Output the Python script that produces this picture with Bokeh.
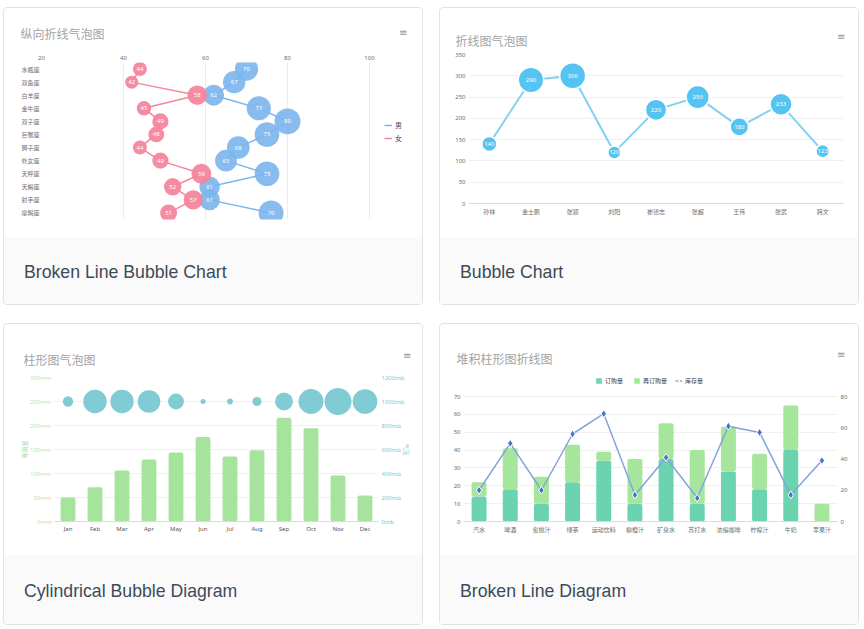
import numpy as np
from bokeh.plotting import figure
from bokeh.models import (Range1d, FactorRange, LinearAxis, FixedTicker, PrintfTickFormatter,
                          Legend, LegendItem, Title, Div, ColumnDataSource)
from bokeh.layouts import column, row
from bokeh.core.properties import value
from bokeh.embed import file_html
from bokeh.resources import INLINE

# ---------------- data ----------------
# Chart 1: vertical broken-line bubble chart
signs = ["水瓶座", "双鱼座", "白羊座", "金牛座", "双子座", "巨蟹座",
         "狮子座", "处女座", "天秤座", "天蝎座", "射手座", "摩羯座"]
male = [70, 67, 62, 73, 80, 75, 68, 65, 75, 61, 61, 76]
female = [44, 42, 58, 45, 49, 48, 44, 49, 59, 52, 57, 51]
x1_ticks = [20, 40, 60, 80, 100]

# Chart 2: line bubble chart
names2 = ["孙林", "金士鹏", "张颖", "刘阳", "崔德志", "张超", "王伟", "张武", "韩文"]
values2 = [140, 290, 300, 120, 220, 250, 180, 233, 123]
y2_ticks = [0, 50, 100, 150, 200, 250, 300, 350]

# Chart 3: column bubble chart
months = ["Jan", "Feb", "Mar", "Apr", "May", "Jun", "Jul", "Aug", "Sep", "Oct", "Nov", "Dec"]
rainfall = [49.9, 71.5, 106.4, 129.2, 144.0, 176.0, 135.6, 148.5, 216.4, 194.1, 95.6, 54.4]
bubble_z = [1010.5, 1016.0, 1015.9, 1015.5, 1012.3, 1009.5, 1009.6, 1010.2, 1013.1, 1016.9, 1018.2, 1016.7]
bubble_level = [1000] * 12
y3_left_ticks = [0, 50, 100, 150, 200, 250, 300]
y3_right_ticks = [0, 200, 400, 600, 800, 1000, 1200]

# Chart 4: stacked column + line
drinks = ["汽水", "啤酒", "蜜桃汁", "绿茶", "运动饮料", "柳橙汁",
          "矿泉水", "苏打水", "浓缩咖啡", "柠檬汁", "牛奶", "苹果汁"]
order_qty = [14, 18, 10, 22, 34, 10, 35, 10, 28, 18, 40, 0]
reorder_qty = [8, 23, 15, 21, 5, 25, 20, 30, 25, 20, 25, 10]
stock_qty = [20, 50, 20, 56, 69, 17, 41, 15, 61, 57, 17, 39]
y4_left_ticks = [0, 10, 20, 30, 40, 50, 60, 70]
y4_right_ticks = [0, 20, 40, 60, 80]

captions = ["Broken Line Bubble Chart", "Bubble Chart", "Cylindrical Bubble Diagram", "Broken Line Diagram"]

# ---------------- styles ----------------
CJK = "Noto Sans CJK SC"
LAT = "Noto Sans"
TITLE_COLOR = "#a3a3a3"
TICK_COLOR = "#6e6e6e"
GRID = "#f0f0f0"
AXIS_LINE = "#d5dbe6"
IW = 418  # inner card width


def bubble_sizes(vals, dmin, dmax, vmin=None, vmax=None):
    v = np.asarray(vals, dtype=float)
    lo = v.min() if vmin is None else vmin
    hi = v.max() if vmax is None else vmax
    t = (v - lo) / (hi - lo)
    return np.sqrt(dmin ** 2 + t * (dmax ** 2 - dmin ** 2))


def base_fig(w, h, l, r, t, b, x_range, y_range, title, offset, standoff,
             icon_offset, icon_standoff, **kw):
    p = figure(width=w, height=h, x_range=x_range, y_range=y_range,
               output_backend="svg", toolbar_location=None,
               min_border_left=l, min_border_right=r, min_border_top=t, min_border_bottom=b,
               title=title, **kw)
    p.outline_line_color = None
    p.background_fill_color = "white"
    p.border_fill_color = "white"
    p.title.text_font = CJK
    p.title.text_font_size = "12px"
    p.title.text_font_style = "normal"
    p.title.text_color = TITLE_COLOR
    p.title.align = "left"
    p.title.offset = offset
    p.title.standoff = standoff
    # context-menu icon at the top right
    p.add_layout(Title(text="≡", align="right", offset=icon_offset, standoff=icon_standoff,
                       text_font="DejaVu Sans", text_font_size="10px", text_font_style="normal",
                       text_color="#9a9a9a"), "above")
    return p


def style_axis(ax, font=LAT, color=TICK_COLOR, size="6px", line=None, standoff=3):
    ax.major_label_text_font = font
    ax.major_label_text_font_size = size
    ax.major_label_text_color = color
    ax.major_tick_line_color = None
    ax.minor_tick_line_color = None
    ax.major_tick_out = 0
    ax.major_tick_in = 0
    ax.minor_tick_out = 0
    ax.minor_tick_in = 0
    ax.axis_line_color = line
    ax.major_label_standoff = standoff


# ---------------- chart 1 ----------------
F1_W, F1_DATA_W = 371, 328
x1_end = 20 + (100 - 20) * F1_W / F1_DATA_W
p1 = base_fig(IW, 229, 37, IW - 37 - F1_W, 54, 18, Range1d(20, x1_end), FactorRange(*reversed(signs)),
              "纵向折线气泡图", -21, -62, 5, 29, x_axis_location="above")
style_axis(p1.xaxis[0])
p1.xaxis[0].ticker = FixedTicker(ticks=x1_ticks)
style_axis(p1.yaxis[0], font=CJK, standoff=2)
p1.xgrid.grid_line_color = "#ececec"
p1.ygrid.grid_line_color = None
allv = male + female
s_m = bubble_sizes(male, 13, 26, min(allv), max(allv))
s_f = bubble_sizes(female, 13, 26, min(allv), max(allv))
BLUE1, PINK1 = "#7cb5ec", "#f4869e"
src_m = ColumnDataSource(dict(v=male, s=signs, size=s_m, t=[str(v) for v in male]))
src_f = ColumnDataSource(dict(v=female, s=signs, size=s_f, t=[str(v) for v in female]))
lm = p1.line("v", "s", source=src_m, line_color=BLUE1, line_width=1.5)
p1.scatter("v", "s", source=src_m, size="size", fill_color=BLUE1, fill_alpha=0.9, line_color=None)
lf = p1.line("v", "s", source=src_f, line_color=PINK1, line_width=1.5)
p1.scatter("v", "s", source=src_f, size="size", fill_color=PINK1, fill_alpha=0.95, line_color=None)
for src in (src_m, src_f):
    p1.text("v", "s", text="t", source=src, text_color="white", text_align="center",
            text_baseline="middle", text_font=value(LAT), text_font_size=value("6px"))
leg1 = Legend(items=[LegendItem(label="男", renderers=[lm]), LegendItem(label="女", renderers=[lf])],
              location=(343, 76), orientation="vertical", glyph_width=8, glyph_height=8,
              label_height=8, label_standoff=3, spacing=3, padding=0, margin=0,
              label_text_font=CJK, label_text_font_size="7px", label_text_color="#444",
              border_line_color=None, background_fill_alpha=0)
p1.add_layout(leg1)

# ---------------- chart 2 ----------------
p2 = base_fig(IW, 229, 28, 15, 46, 34, FactorRange(*names2), Range1d(0, 350),
              "折线图气泡图", -13, -67, -2, 26)
style_axis(p2.xaxis[0], font=CJK, line=AXIS_LINE, standoff=3)
style_axis(p2.yaxis[0])
p2.yaxis[0].ticker = FixedTicker(ticks=y2_ticks)
p2.xgrid.grid_line_color = None
p2.ygrid.grid_line_color = GRID
BLUE2 = "#55c4f3"
src2 = ColumnDataSource(dict(n=names2, v=values2, size=bubble_sizes(values2, 13, 26),
                             t=[str(v) for v in values2]))
p2.line("n", "v", source=src2, line_color="#82d0f2", line_width=2)
p2.scatter("n", "v", source=src2, size="size", fill_color=BLUE2, line_color="white", line_width=1.5)
p2.text("n", "v", text="t", source=src2, text_color="white", text_align="center",
        text_baseline="middle", text_font=value(LAT), text_font_size=value("6px"))

# ---------------- chart 3 ----------------
GREEN3, TEAL3 = "#a6e39c", "#80cbd4"
p3 = base_fig(IW, 231, 50, 44, 53, 34, FactorRange(*months), Range1d(0, 300),
              "柱形图气泡图", -31, -75, -33, 34)
p3.extra_y_ranges = {"mb": Range1d(0, 1200)}
style_axis(p3.xaxis[0], color="#555", line=AXIS_LINE, standoff=3)
style_axis(p3.yaxis[0], color="#b5e8ad")
p3.yaxis[0].ticker = FixedTicker(ticks=y3_left_ticks)
p3.yaxis[0].formatter = PrintfTickFormatter(format="%dmm")
p3.yaxis[0].axis_label = "降雨量"
p3.yaxis[0].axis_label_text_font = CJK
p3.yaxis[0].axis_label_text_font_size = "6px"
p3.yaxis[0].axis_label_text_font_style = "normal"
p3.yaxis[0].axis_label_text_color = "#a6e39c"
p3.yaxis[0].axis_label_standoff = -2
ax3r = LinearAxis(y_range_name="mb", ticker=FixedTicker(ticks=y3_right_ticks),
                  formatter=PrintfTickFormatter(format="%dmb"))
style_axis(ax3r, color="#7fc6d0")
ax3r.axis_label = "气压"
ax3r.axis_label_text_font = CJK
ax3r.axis_label_text_font_size = "6px"
ax3r.axis_label_text_font_style = "normal"
ax3r.axis_label_text_color = "#7fc6d0"
ax3r.axis_label_standoff = -6
p3.add_layout(ax3r, "right")
p3.xgrid.grid_line_color = None
p3.ygrid.grid_line_color = GRID
p3.vbar(x=months, top=rainfall, width=0.55, fill_color=GREEN3, line_color=None, border_radius=2)
p3.scatter(x=months, y=bubble_level, y_range_name="mb", size=bubble_sizes(bubble_z, 5, 27),
           fill_color=TEAL3, line_color=None)

# ---------------- chart 4 ----------------
C_ORDER, C_REORDER, C_LINE, C_MARK = "#6bd3b0", "#a6e59c", "#84a3db", "#4a72c6"
F4_H, F4_DATA_H = 151, 125
p4 = base_fig(IW, 231, 23, 21, 46, 34, FactorRange(*drinks),
              Range1d(0, 70 * F4_H / F4_DATA_H), "堆积柱形图折线图", -7, -63, -8, 22)
p4.extra_y_ranges = {"stock": Range1d(0, 80 * F4_H / F4_DATA_H)}
style_axis(p4.xaxis[0], font=CJK, line=AXIS_LINE, standoff=3)
style_axis(p4.yaxis[0])
p4.yaxis[0].ticker = FixedTicker(ticks=y4_left_ticks)
ax4r = LinearAxis(y_range_name="stock", ticker=FixedTicker(ticks=y4_right_ticks))
style_axis(ax4r)
p4.add_layout(ax4r, "right")
p4.xgrid.grid_line_color = None
p4.ygrid.grid_line_color = GRID
src4 = ColumnDataSource(dict(d=drinks, o=order_qty, r=reorder_qty, s=stock_qty))
bars = p4.vbar_stack(["o", "r"], x="d", source=src4, width=0.48,
                     fill_color=[C_ORDER, C_REORDER], line_color=None, border_radius=2)
l4 = p4.line("d", "s", source=src4, y_range_name="stock", line_color=C_LINE, line_width=1.5)
m4 = p4.scatter("d", "s", source=src4, y_range_name="stock", marker="diamond", size=8,
                fill_color=C_MARK, line_color="white", line_width=1)
leg4 = Legend(items=[LegendItem(label="订购量", renderers=[bars[0]]),
                     LegendItem(label="再订购量", renderers=[bars[1]]),
                     LegendItem(label="库存量", renderers=[l4, m4])],
              location="top_center", orientation="horizontal", glyph_width=7, glyph_height=7,
              label_height=8, label_standoff=3, spacing=8, padding=0, margin=6,
              label_text_font=CJK, label_text_font_size="6px", label_text_color="#444",
              border_line_color=None, background_fill_alpha=0)
p4.add_layout(leg4)


# ---------------- cards ----------------
def card(fig, caption, foot_h):
    cap = Div(text=caption, width=IW, height=foot_h, margin=0, styles={
        "background-color": "#fafafa",
        "font-family": "'Liberation Sans', Helvetica, Arial, sans-serif",
        "font-size": "17.7px",
        "color": "#3d4a59",
        "padding-left": "20px",
        "line-height": f"{foot_h + 4}px",
        "box-sizing": "border-box",
        "overflow": "hidden",
    })
    return column(fig, cap, spacing=0, styles={
        "border": "1px solid #e2e2e2",
        "border-radius": "4px",
        "overflow": "hidden",
        "box-sizing": "content-box",
        "background-color": "white",
    })


page = column(
    row(card(p1, captions[0], 67), card(p2, captions[1], 67), spacing=16),
    row(card(p3, captions[2], 69), card(p4, captions[3], 69), spacing=16),
    spacing=18, margin=(7, 0, 0, 3),
)

with open("out.html", "w") as f:
    f.write(file_html(page, INLINE))
